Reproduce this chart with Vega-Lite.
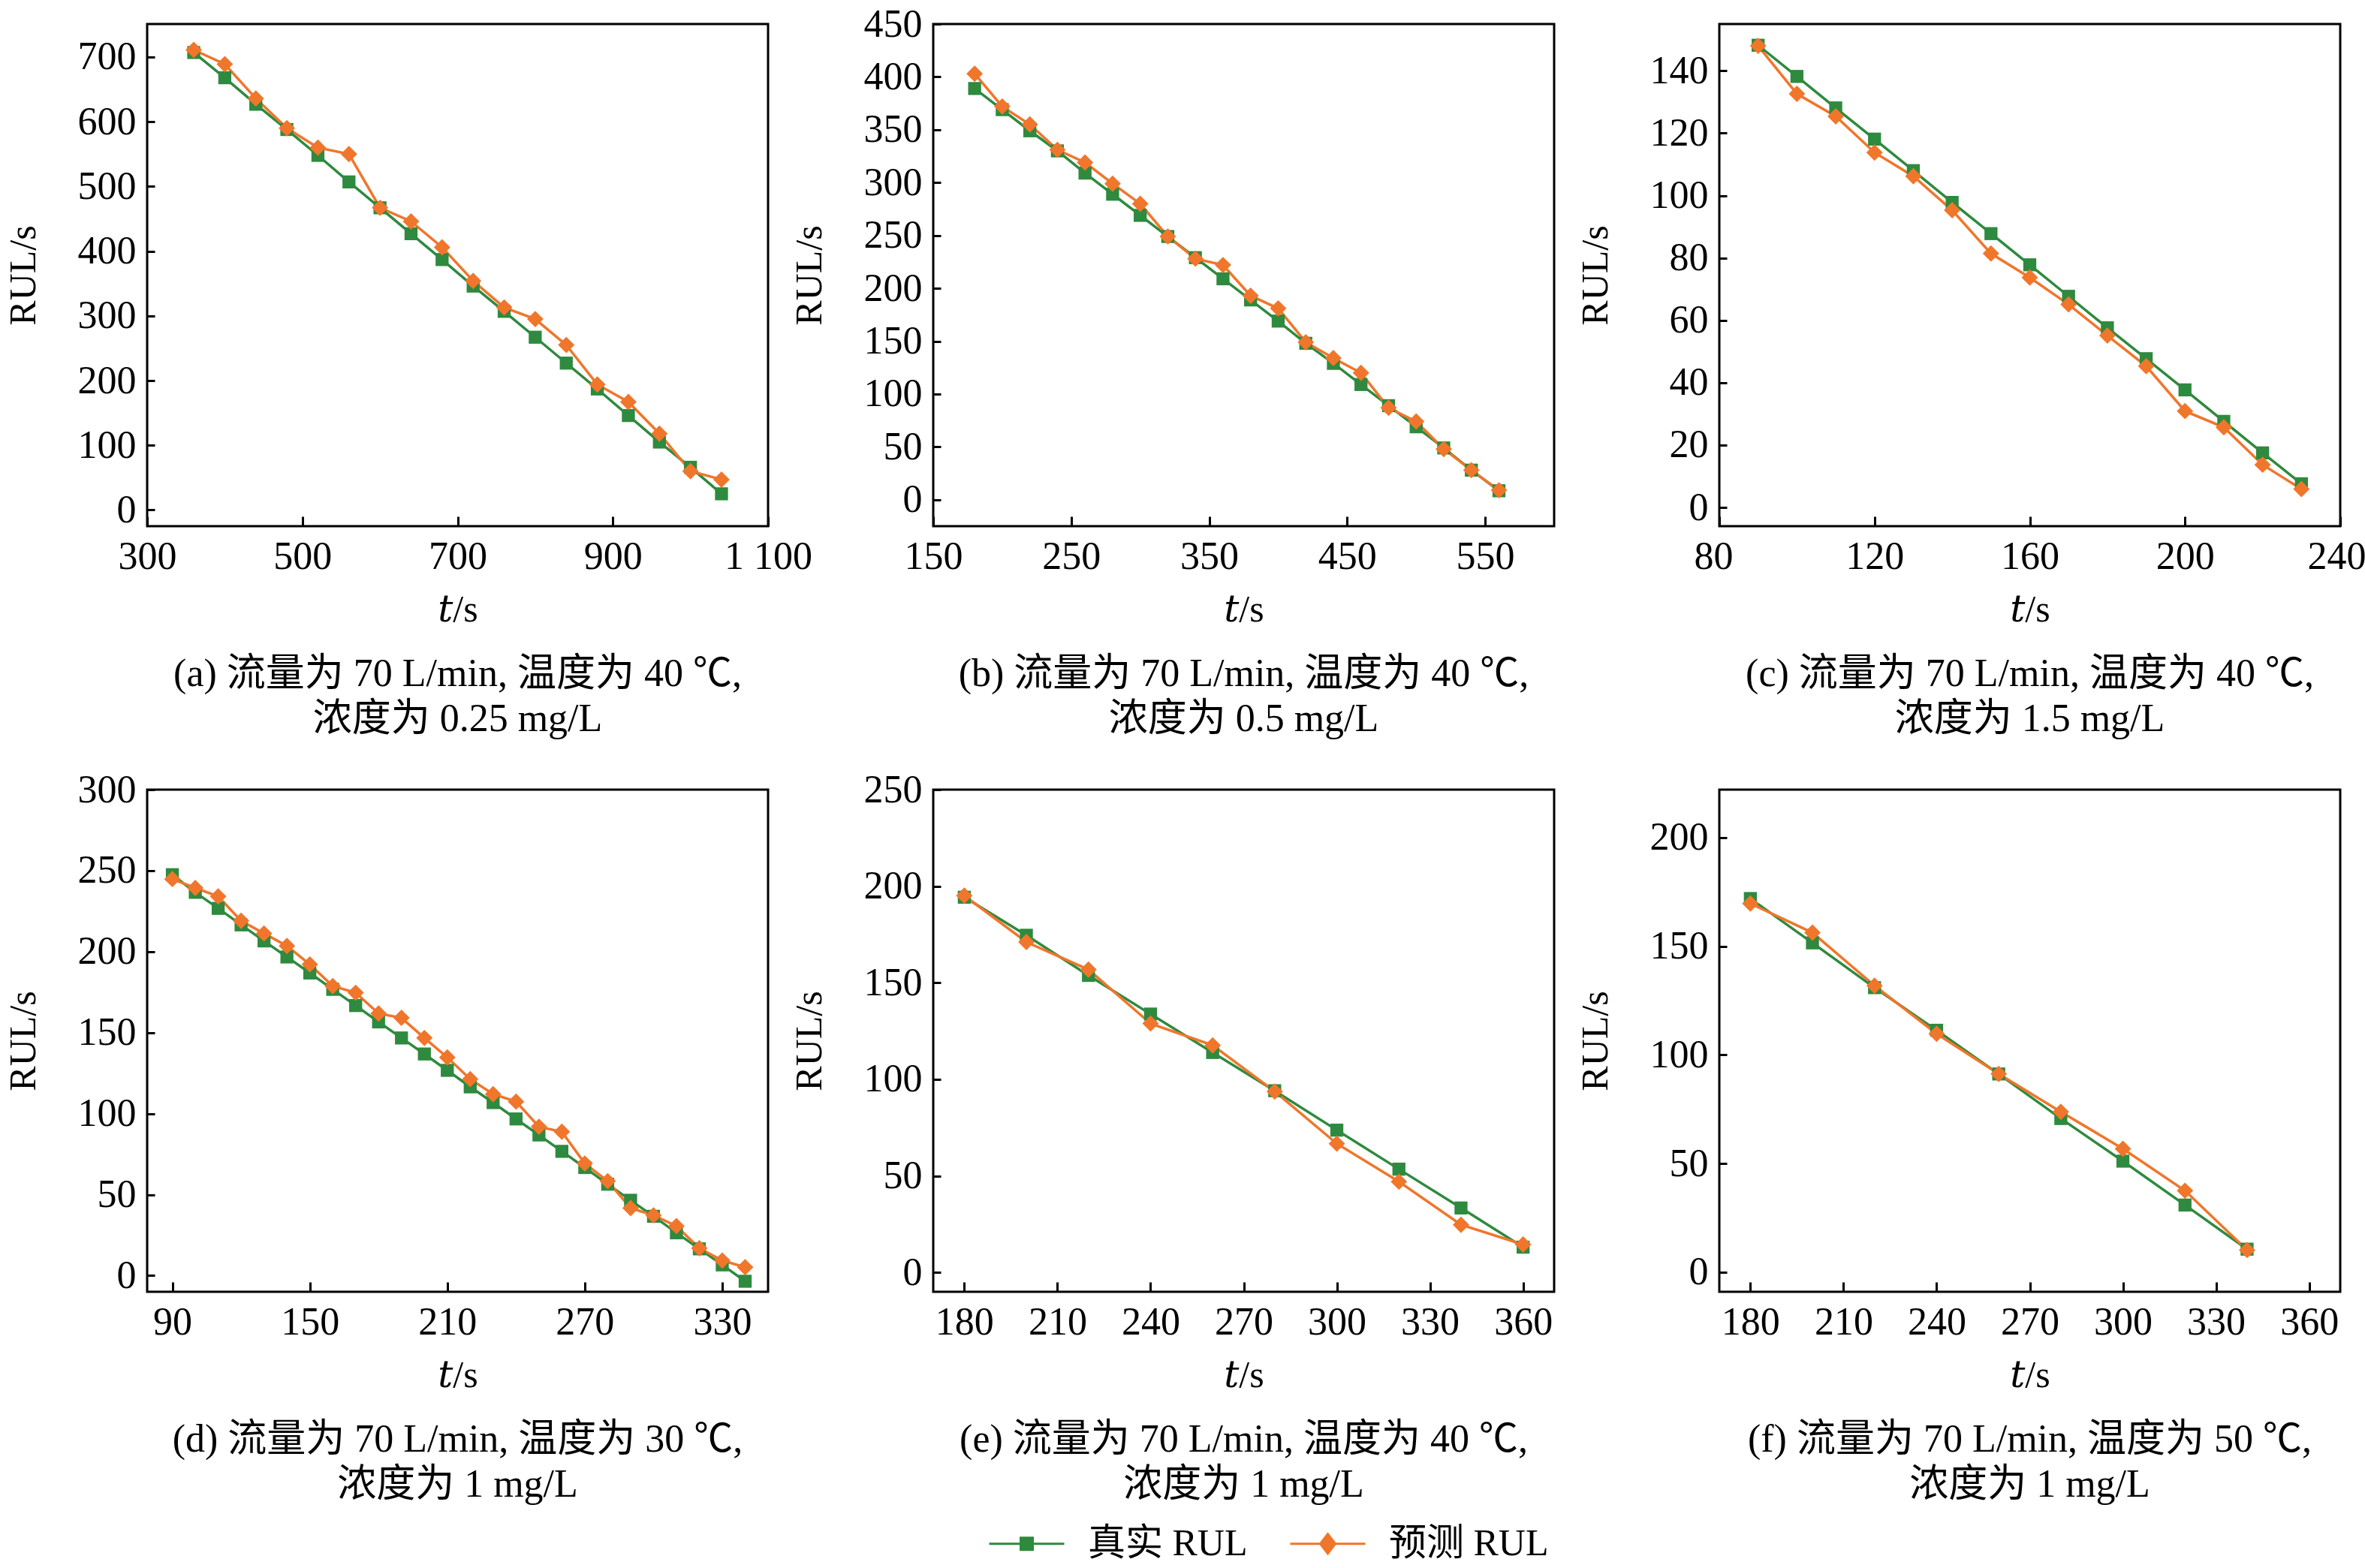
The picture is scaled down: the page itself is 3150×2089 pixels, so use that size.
{
  "$schema": "https://vega.github.io/schema/vega-lite/v6.json",
  "background": "white",
  "padding": {"left": 4, "top": 4, "right": 0, "bottom": 0},
  "data": {
    "values": [
      {"p": "a", "t": 360, "s": "真实 RUL", "v": 707}, {"p": "a", "t": 400, "s": "真实 RUL", "v": 668},
      {"p": "a", "t": 440, "s": "真实 RUL", "v": 627}, {"p": "a", "t": 480, "s": "真实 RUL", "v": 588},
      {"p": "a", "t": 520, "s": "真实 RUL", "v": 548}, {"p": "a", "t": 560, "s": "真实 RUL", "v": 507},
      {"p": "a", "t": 600, "s": "真实 RUL", "v": 467}, {"p": "a", "t": 640, "s": "真实 RUL", "v": 427},
      {"p": "a", "t": 680, "s": "真实 RUL", "v": 387}, {"p": "a", "t": 720, "s": "真实 RUL", "v": 346},
      {"p": "a", "t": 760, "s": "真实 RUL", "v": 307}, {"p": "a", "t": 800, "s": "真实 RUL", "v": 267},
      {"p": "a", "t": 840, "s": "真实 RUL", "v": 227}, {"p": "a", "t": 880, "s": "真实 RUL", "v": 187},
      {"p": "a", "t": 920, "s": "真实 RUL", "v": 146}, {"p": "a", "t": 960, "s": "真实 RUL", "v": 105},
      {"p": "a", "t": 1000, "s": "真实 RUL", "v": 66}, {"p": "a", "t": 1040, "s": "真实 RUL", "v": 25},
      {"p": "a", "t": 360, "s": "预测 RUL", "v": 711}, {"p": "a", "t": 400, "s": "预测 RUL", "v": 689},
      {"p": "a", "t": 440, "s": "预测 RUL", "v": 636}, {"p": "a", "t": 480, "s": "预测 RUL", "v": 590},
      {"p": "a", "t": 520, "s": "预测 RUL", "v": 560}, {"p": "a", "t": 560, "s": "预测 RUL", "v": 550},
      {"p": "a", "t": 600, "s": "预测 RUL", "v": 467}, {"p": "a", "t": 640, "s": "预测 RUL", "v": 446},
      {"p": "a", "t": 680, "s": "预测 RUL", "v": 406}, {"p": "a", "t": 720, "s": "预测 RUL", "v": 354},
      {"p": "a", "t": 760, "s": "预测 RUL", "v": 313}, {"p": "a", "t": 800, "s": "预测 RUL", "v": 295},
      {"p": "a", "t": 840, "s": "预测 RUL", "v": 255}, {"p": "a", "t": 880, "s": "预测 RUL", "v": 194},
      {"p": "a", "t": 920, "s": "预测 RUL", "v": 167}, {"p": "a", "t": 960, "s": "预测 RUL", "v": 118},
      {"p": "a", "t": 1000, "s": "预测 RUL", "v": 60}, {"p": "a", "t": 1040, "s": "预测 RUL", "v": 47},

      {"p": "b", "t": 180, "s": "真实 RUL", "v": 389}, {"p": "b", "t": 200, "s": "真实 RUL", "v": 369},
      {"p": "b", "t": 220, "s": "真实 RUL", "v": 349}, {"p": "b", "t": 240, "s": "真实 RUL", "v": 330},
      {"p": "b", "t": 260, "s": "真实 RUL", "v": 309}, {"p": "b", "t": 280, "s": "真实 RUL", "v": 289},
      {"p": "b", "t": 300, "s": "真实 RUL", "v": 269}, {"p": "b", "t": 320, "s": "真实 RUL", "v": 249},
      {"p": "b", "t": 340, "s": "真实 RUL", "v": 229}, {"p": "b", "t": 360, "s": "真实 RUL", "v": 209},
      {"p": "b", "t": 380, "s": "真实 RUL", "v": 189}, {"p": "b", "t": 400, "s": "真实 RUL", "v": 169},
      {"p": "b", "t": 420, "s": "真实 RUL", "v": 148}, {"p": "b", "t": 440, "s": "真实 RUL", "v": 129},
      {"p": "b", "t": 460, "s": "真实 RUL", "v": 109}, {"p": "b", "t": 480, "s": "真实 RUL", "v": 89},
      {"p": "b", "t": 500, "s": "真实 RUL", "v": 69}, {"p": "b", "t": 520, "s": "真实 RUL", "v": 49},
      {"p": "b", "t": 540, "s": "真实 RUL", "v": 28}, {"p": "b", "t": 560, "s": "真实 RUL", "v": 8.5},
      {"p": "b", "t": 180, "s": "预测 RUL", "v": 403}, {"p": "b", "t": 200, "s": "预测 RUL", "v": 372},
      {"p": "b", "t": 220, "s": "预测 RUL", "v": 355}, {"p": "b", "t": 240, "s": "预测 RUL", "v": 331},
      {"p": "b", "t": 260, "s": "预测 RUL", "v": 319}, {"p": "b", "t": 280, "s": "预测 RUL", "v": 299},
      {"p": "b", "t": 300, "s": "预测 RUL", "v": 280}, {"p": "b", "t": 320, "s": "预测 RUL", "v": 249},
      {"p": "b", "t": 340, "s": "预测 RUL", "v": 228}, {"p": "b", "t": 360, "s": "预测 RUL", "v": 222},
      {"p": "b", "t": 380, "s": "预测 RUL", "v": 193}, {"p": "b", "t": 400, "s": "预测 RUL", "v": 181},
      {"p": "b", "t": 420, "s": "预测 RUL", "v": 149}, {"p": "b", "t": 440, "s": "预测 RUL", "v": 134},
      {"p": "b", "t": 460, "s": "预测 RUL", "v": 120}, {"p": "b", "t": 480, "s": "预测 RUL", "v": 87},
      {"p": "b", "t": 500, "s": "预测 RUL", "v": 74}, {"p": "b", "t": 520, "s": "预测 RUL", "v": 48},
      {"p": "b", "t": 540, "s": "预测 RUL", "v": 28}, {"p": "b", "t": 560, "s": "预测 RUL", "v": 9},

      {"p": "c", "t": 90, "s": "真实 RUL", "v": 148.2}, {"p": "c", "t": 100, "s": "真实 RUL", "v": 138.2},
      {"p": "c", "t": 110, "s": "真实 RUL", "v": 128.1}, {"p": "c", "t": 120, "s": "真实 RUL", "v": 118.1},
      {"p": "c", "t": 130, "s": "真实 RUL", "v": 108}, {"p": "c", "t": 140, "s": "真实 RUL", "v": 97.8},
      {"p": "c", "t": 150, "s": "真实 RUL", "v": 87.8}, {"p": "c", "t": 160, "s": "真实 RUL", "v": 77.8},
      {"p": "c", "t": 170, "s": "真实 RUL", "v": 67.7}, {"p": "c", "t": 180, "s": "真实 RUL", "v": 57.6},
      {"p": "c", "t": 190, "s": "真实 RUL", "v": 47.7}, {"p": "c", "t": 200, "s": "真实 RUL", "v": 37.7},
      {"p": "c", "t": 210, "s": "真实 RUL", "v": 27.6}, {"p": "c", "t": 220, "s": "真实 RUL", "v": 17.5},
      {"p": "c", "t": 230, "s": "真实 RUL", "v": 7.6},
      {"p": "c", "t": 90, "s": "预测 RUL", "v": 148}, {"p": "c", "t": 100, "s": "预测 RUL", "v": 132.6},
      {"p": "c", "t": 110, "s": "预测 RUL", "v": 125.4}, {"p": "c", "t": 120, "s": "预测 RUL", "v": 113.8},
      {"p": "c", "t": 130, "s": "预测 RUL", "v": 106.2}, {"p": "c", "t": 140, "s": "预测 RUL", "v": 95.3},
      {"p": "c", "t": 150, "s": "预测 RUL", "v": 81.4}, {"p": "c", "t": 160, "s": "预测 RUL", "v": 73.7},
      {"p": "c", "t": 170, "s": "预测 RUL", "v": 65.1}, {"p": "c", "t": 180, "s": "预测 RUL", "v": 55.1},
      {"p": "c", "t": 190, "s": "预测 RUL", "v": 45.3}, {"p": "c", "t": 200, "s": "预测 RUL", "v": 30.9},
      {"p": "c", "t": 210, "s": "预测 RUL", "v": 25.7}, {"p": "c", "t": 220, "s": "预测 RUL", "v": 13.7},
      {"p": "c", "t": 230, "s": "预测 RUL", "v": 5.9},

      {"p": "d", "t": 90, "s": "真实 RUL", "v": 247.5}, {"p": "d", "t": 100, "s": "真实 RUL", "v": 236.6},
      {"p": "d", "t": 110, "s": "真实 RUL", "v": 226.7}, {"p": "d", "t": 120, "s": "真实 RUL", "v": 216.5},
      {"p": "d", "t": 130, "s": "真实 RUL", "v": 206.6}, {"p": "d", "t": 140, "s": "真实 RUL", "v": 196.7},
      {"p": "d", "t": 150, "s": "真实 RUL", "v": 186.8}, {"p": "d", "t": 160, "s": "真实 RUL", "v": 176.7},
      {"p": "d", "t": 170, "s": "真实 RUL", "v": 166.7}, {"p": "d", "t": 180, "s": "真实 RUL", "v": 156.6},
      {"p": "d", "t": 190, "s": "真实 RUL", "v": 146.7}, {"p": "d", "t": 200, "s": "真实 RUL", "v": 136.8},
      {"p": "d", "t": 210, "s": "真实 RUL", "v": 126.7}, {"p": "d", "t": 220, "s": "真实 RUL", "v": 116.5},
      {"p": "d", "t": 230, "s": "真实 RUL", "v": 106.8}, {"p": "d", "t": 240, "s": "真实 RUL", "v": 96.7},
      {"p": "d", "t": 250, "s": "真实 RUL", "v": 86.8}, {"p": "d", "t": 260, "s": "真实 RUL", "v": 76.7},
      {"p": "d", "t": 270, "s": "真实 RUL", "v": 66.7}, {"p": "d", "t": 280, "s": "真实 RUL", "v": 56.4},
      {"p": "d", "t": 290, "s": "真实 RUL", "v": 46.5}, {"p": "d", "t": 300, "s": "真实 RUL", "v": 36.6},
      {"p": "d", "t": 310, "s": "真实 RUL", "v": 26.4}, {"p": "d", "t": 320, "s": "真实 RUL", "v": 16.5},
      {"p": "d", "t": 330, "s": "真实 RUL", "v": 6.6}, {"p": "d", "t": 340, "s": "真实 RUL", "v": -3.5},
      {"p": "d", "t": 90, "s": "预测 RUL", "v": 244.8}, {"p": "d", "t": 100, "s": "预测 RUL", "v": 239.3},
      {"p": "d", "t": 110, "s": "预测 RUL", "v": 234.1}, {"p": "d", "t": 120, "s": "预测 RUL", "v": 219},
      {"p": "d", "t": 130, "s": "预测 RUL", "v": 211.2}, {"p": "d", "t": 140, "s": "预测 RUL", "v": 203.5},
      {"p": "d", "t": 150, "s": "预测 RUL", "v": 192.1}, {"p": "d", "t": 160, "s": "预测 RUL", "v": 178.7},
      {"p": "d", "t": 170, "s": "预测 RUL", "v": 174.6}, {"p": "d", "t": 180, "s": "预测 RUL", "v": 161.8},
      {"p": "d", "t": 190, "s": "预测 RUL", "v": 159.1}, {"p": "d", "t": 200, "s": "预测 RUL", "v": 146.7},
      {"p": "d", "t": 210, "s": "预测 RUL", "v": 134.7}, {"p": "d", "t": 220, "s": "预测 RUL", "v": 121.3},
      {"p": "d", "t": 230, "s": "预测 RUL", "v": 112}, {"p": "d", "t": 240, "s": "预测 RUL", "v": 107.4},
      {"p": "d", "t": 250, "s": "预测 RUL", "v": 91.9}, {"p": "d", "t": 260, "s": "预测 RUL", "v": 88.8},
      {"p": "d", "t": 270, "s": "预测 RUL", "v": 69.2}, {"p": "d", "t": 280, "s": "预测 RUL", "v": 58.3},
      {"p": "d", "t": 290, "s": "预测 RUL", "v": 41.7}, {"p": "d", "t": 300, "s": "预测 RUL", "v": 37.2},
      {"p": "d", "t": 310, "s": "预测 RUL", "v": 30.6}, {"p": "d", "t": 320, "s": "预测 RUL", "v": 16.9},
      {"p": "d", "t": 330, "s": "预测 RUL", "v": 9.3}, {"p": "d", "t": 340, "s": "预测 RUL", "v": 5.2},

      {"p": "e", "t": 180, "s": "真实 RUL", "v": 194.3}, {"p": "e", "t": 200, "s": "真实 RUL", "v": 174.6},
      {"p": "e", "t": 220, "s": "真实 RUL", "v": 153.8}, {"p": "e", "t": 240, "s": "真实 RUL", "v": 133.8},
      {"p": "e", "t": 260, "s": "真实 RUL", "v": 113.9}, {"p": "e", "t": 280, "s": "真实 RUL", "v": 94.1},
      {"p": "e", "t": 300, "s": "真实 RUL", "v": 73.7}, {"p": "e", "t": 320, "s": "真实 RUL", "v": 53.5},
      {"p": "e", "t": 340, "s": "真实 RUL", "v": 33.4}, {"p": "e", "t": 360, "s": "真实 RUL", "v": 13.1},
      {"p": "e", "t": 180, "s": "预测 RUL", "v": 195.1}, {"p": "e", "t": 200, "s": "预测 RUL", "v": 171.1},
      {"p": "e", "t": 220, "s": "预测 RUL", "v": 156.8}, {"p": "e", "t": 240, "s": "预测 RUL", "v": 128.9},
      {"p": "e", "t": 260, "s": "预测 RUL", "v": 117.6}, {"p": "e", "t": 280, "s": "预测 RUL", "v": 93.7},
      {"p": "e", "t": 300, "s": "预测 RUL", "v": 66.7}, {"p": "e", "t": 320, "s": "预测 RUL", "v": 47},
      {"p": "e", "t": 340, "s": "预测 RUL", "v": 24.7}, {"p": "e", "t": 360, "s": "预测 RUL", "v": 14.5},

      {"p": "f", "t": 180, "s": "真实 RUL", "v": 171.9}, {"p": "f", "t": 200, "s": "真实 RUL", "v": 151.5},
      {"p": "f", "t": 220, "s": "真实 RUL", "v": 130.9}, {"p": "f", "t": 240, "s": "真实 RUL", "v": 111.3},
      {"p": "f", "t": 260, "s": "真实 RUL", "v": 91.2}, {"p": "f", "t": 280, "s": "真实 RUL", "v": 70.7},
      {"p": "f", "t": 300, "s": "真实 RUL", "v": 51.1}, {"p": "f", "t": 320, "s": "真实 RUL", "v": 30.9},
      {"p": "f", "t": 340, "s": "真实 RUL", "v": 10.6},
      {"p": "f", "t": 180, "s": "预测 RUL", "v": 169.6}, {"p": "f", "t": 200, "s": "预测 RUL", "v": 156.2},
      {"p": "f", "t": 220, "s": "预测 RUL", "v": 131.8}, {"p": "f", "t": 240, "s": "预测 RUL", "v": 109.7},
      {"p": "f", "t": 260, "s": "预测 RUL", "v": 91.2}, {"p": "f", "t": 280, "s": "预测 RUL", "v": 73.8},
      {"p": "f", "t": 300, "s": "预测 RUL", "v": 56.8}, {"p": "f", "t": 320, "s": "预测 RUL", "v": 37.5},
      {"p": "f", "t": 340, "s": "预测 RUL", "v": 10.2}
    ]
  },
  "columns": 3,
  "spacing": {"row": 351, "column": 220},
  "bounds": "flush",
  "resolve": {"scale": {"color": "shared"}},
  "concat": [
    {
      "width": 827, "height": 669,
      "title": {"text": ["(a) 流量为 70 L/min, 温度为 40 ℃,", "浓度为 0.25 mg/L"]},
      "transform": [{"filter": "datum.p == 'a'"}],
      "encoding": {
        "x": {"field": "t", "type": "quantitative", "scale": {"domain": [300, 1100], "nice": false, "zero": false},
              "axis": {"values": [300, 500, 700, 900, 1100], "title": "𝑡/s", "format": ",d", "labelExpr": "replace(datum.label, ',', ' ')"}},
        "y": {"field": "v", "type": "quantitative", "scale": {"domain": [-25, 751], "nice": false, "zero": false},
              "axis": {"values": [0, 100, 200, 300, 400, 500, 600, 700], "title": "RUL/s"}},
        "color": {"field": "s", "type": "nominal", "scale": {"domain": ["真实 RUL", "预测 RUL"], "range": ["#2e8a3e", "#f0762b"]},
          "legend": {
            "orient": "none", "legendX": 1120, "legendY": 1973, "direction": "horizontal", "title": null,
            "labelFontSize": 50, "labelColor": "black", "labelOffset": 30, "columnPadding": 50, "labelLimit": 600,
            "symbolSize": 10000, "symbolStrokeWidth": 3, "symbolType": "M-1,0H1",
            "encode": {"symbols": {"update": {
              "shape": {"signal": "datum.value == '真实 RUL' ? 'M-1,0H1M-0.16,-0.16H0.16V0.16H-0.16Z' : 'M-1,0H1M0,-0.26L0.2,0L0,0.26L-0.2,0Z'"},
              "fill": {"signal": "datum.value == '真实 RUL' ? '#3aa847' : '#e2824e'"},
              "stroke": {"signal": "datum.value == '真实 RUL' ? '#3aa847' : '#e2824e'"},
              "opacity": {"value": 1}, "fillOpacity": {"value": 1}, "strokeOpacity": {"value": 1}
            }}}
          }}
      },
      "layer": [
        {"mark": {"type": "line", "strokeWidth": 3.5}},
        {"transform": [{"filter": "datum.s == '真实 RUL'"}], "mark": {"type": "point", "shape": "square", "size": 300, "filled": true, "opacity": 1}},
        {"transform": [{"filter": "datum.s == '预测 RUL'"}], "mark": {"type": "point", "shape": "diamond", "size": 480, "filled": true, "opacity": 1}}
      ]
    },
    {
      "width": 827, "height": 669,
      "title": {"text": ["(b) 流量为 70 L/min, 温度为 40 ℃,", "浓度为 0.5 mg/L"]},
      "transform": [{"filter": "datum.p == 'b'"}],
      "encoding": {
        "x": {"field": "t", "type": "quantitative", "scale": {"domain": [150, 600], "nice": false, "zero": false},
              "axis": {"values": [150, 250, 350, 450, 550], "title": "𝑡/s"}},
        "y": {"field": "v", "type": "quantitative", "scale": {"domain": [-25, 450], "nice": false, "zero": false},
              "axis": {"values": [0, 50, 100, 150, 200, 250, 300, 350, 400, 450], "title": "RUL/s"}},
        "color": {"field": "s", "type": "nominal", "scale": {"domain": ["真实 RUL", "预测 RUL"], "range": ["#2e8a3e", "#f0762b"]}}
      },
      "layer": [
        {"mark": {"type": "line", "strokeWidth": 3.5}},
        {"transform": [{"filter": "datum.s == '真实 RUL'"}], "mark": {"type": "point", "shape": "square", "size": 300, "filled": true, "opacity": 1}},
        {"transform": [{"filter": "datum.s == '预测 RUL'"}], "mark": {"type": "point", "shape": "diamond", "size": 480, "filled": true, "opacity": 1}}
      ]
    },
    {
      "width": 827, "height": 669,
      "title": {"text": ["(c) 流量为 70 L/min, 温度为 40 ℃,", "浓度为 1.5 mg/L"]},
      "transform": [{"filter": "datum.p == 'c'"}],
      "encoding": {
        "x": {"field": "t", "type": "quantitative", "scale": {"domain": [80, 240], "nice": false, "zero": false},
              "axis": {"values": [80, 120, 160, 200, 240], "title": "𝑡/s", "labelFlush": true, "labelFlushOffset": 34}},
        "y": {"field": "v", "type": "quantitative", "scale": {"domain": [-6, 155], "nice": false, "zero": false},
              "axis": {"values": [0, 20, 40, 60, 80, 100, 120, 140], "title": "RUL/s"}},
        "color": {"field": "s", "type": "nominal", "scale": {"domain": ["真实 RUL", "预测 RUL"], "range": ["#2e8a3e", "#f0762b"]}}
      },
      "layer": [
        {"mark": {"type": "line", "strokeWidth": 3.5}},
        {"transform": [{"filter": "datum.s == '真实 RUL'"}], "mark": {"type": "point", "shape": "square", "size": 300, "filled": true, "opacity": 1}},
        {"transform": [{"filter": "datum.s == '预测 RUL'"}], "mark": {"type": "point", "shape": "diamond", "size": 480, "filled": true, "opacity": 1}}
      ]
    },
    {
      "width": 827, "height": 669,
      "title": {"text": ["(d) 流量为 70 L/min, 温度为 30 ℃,", "浓度为 1 mg/L"]},
      "transform": [{"filter": "datum.p == 'd'"}],
      "encoding": {
        "x": {"field": "t", "type": "quantitative", "scale": {"domain": [79, 350], "nice": false, "zero": false},
              "axis": {"values": [90, 150, 210, 270, 330], "title": "𝑡/s"}},
        "y": {"field": "v", "type": "quantitative", "scale": {"domain": [-10, 300], "nice": false, "zero": false},
              "axis": {"values": [0, 50, 100, 150, 200, 250, 300], "title": "RUL/s"}},
        "color": {"field": "s", "type": "nominal", "scale": {"domain": ["真实 RUL", "预测 RUL"], "range": ["#2e8a3e", "#f0762b"]}}
      },
      "layer": [
        {"mark": {"type": "line", "strokeWidth": 3.5}},
        {"transform": [{"filter": "datum.s == '真实 RUL'"}], "mark": {"type": "point", "shape": "square", "size": 300, "filled": true, "opacity": 1}},
        {"transform": [{"filter": "datum.s == '预测 RUL'"}], "mark": {"type": "point", "shape": "diamond", "size": 480, "filled": true, "opacity": 1}}
      ]
    },
    {
      "width": 827, "height": 669,
      "title": {"text": ["(e) 流量为 70 L/min, 温度为 40 ℃,", "浓度为 1 mg/L"]},
      "transform": [{"filter": "datum.p == 'e'"}],
      "encoding": {
        "x": {"field": "t", "type": "quantitative", "scale": {"domain": [170, 370], "nice": false, "zero": false},
              "axis": {"values": [180, 210, 240, 270, 300, 330, 360], "title": "𝑡/s"}},
        "y": {"field": "v", "type": "quantitative", "scale": {"domain": [-10, 250], "nice": false, "zero": false},
              "axis": {"values": [0, 50, 100, 150, 200, 250], "title": "RUL/s"}},
        "color": {"field": "s", "type": "nominal", "scale": {"domain": ["真实 RUL", "预测 RUL"], "range": ["#2e8a3e", "#f0762b"]}}
      },
      "layer": [
        {"mark": {"type": "line", "strokeWidth": 3.5}},
        {"transform": [{"filter": "datum.s == '真实 RUL'"}], "mark": {"type": "point", "shape": "square", "size": 300, "filled": true, "opacity": 1}},
        {"transform": [{"filter": "datum.s == '预测 RUL'"}], "mark": {"type": "point", "shape": "diamond", "size": 480, "filled": true, "opacity": 1}}
      ]
    },
    {
      "width": 827, "height": 669,
      "title": {"text": ["(f) 流量为 70 L/min, 温度为 50 ℃,", "浓度为 1 mg/L"]},
      "transform": [{"filter": "datum.p == 'f'"}],
      "encoding": {
        "x": {"field": "t", "type": "quantitative", "scale": {"domain": [170, 370], "nice": false, "zero": false},
              "axis": {"values": [180, 210, 240, 270, 300, 330, 360], "title": "𝑡/s"}},
        "y": {"field": "v", "type": "quantitative", "scale": {"domain": [-9, 222], "nice": false, "zero": false},
              "axis": {"values": [0, 50, 100, 150, 200], "title": "RUL/s"}},
        "color": {"field": "s", "type": "nominal", "scale": {"domain": ["真实 RUL", "预测 RUL"], "range": ["#2e8a3e", "#f0762b"]}}
      },
      "layer": [
        {"mark": {"type": "line", "strokeWidth": 3.5}},
        {"transform": [{"filter": "datum.s == '真实 RUL'"}], "mark": {"type": "point", "shape": "square", "size": 300, "filled": true, "opacity": 1}},
        {"transform": [{"filter": "datum.s == '预测 RUL'"}], "mark": {"type": "point", "shape": "diamond", "size": 480, "filled": true, "opacity": 1}}
      ]
    }
  ],
  "config": {
    "font": "Liberation Serif, Noto Sans CJK SC, serif",
    "view": {"stroke": "black", "strokeWidth": 3},
    "axis": {
      "domain": false, "grid": false, "tickColor": "black", "tickWidth": 3,
      "labelFlush": false, "labelOverlap": false,
      "labelFontSize": 52, "labelColor": "black", "labelFont": "Liberation Serif, Noto Sans CJK SC, serif",
      "titleFontSize": 50, "titleFontWeight": "normal", "titleColor": "black", "titleFont": "Liberation Serif, DejaVu Serif, serif"
    },
    "axisX": {"tickSize": -13, "labelPadding": 28, "titlePadding": 20},
    "axisY": {"tickSize": -10, "labelPadding": 25, "titlePadding": 47},
    "title": {"orient": "bottom", "fontSize": 52, "fontWeight": "normal", "color": "black", "offset": 36, "lineHeight": 60, "anchor": "middle",
              "font": "Liberation Serif, Noto Sans CJK SC, serif"},
    "legend": {"labelFont": "Liberation Serif, Noto Sans CJK SC, serif"}
  }
}
